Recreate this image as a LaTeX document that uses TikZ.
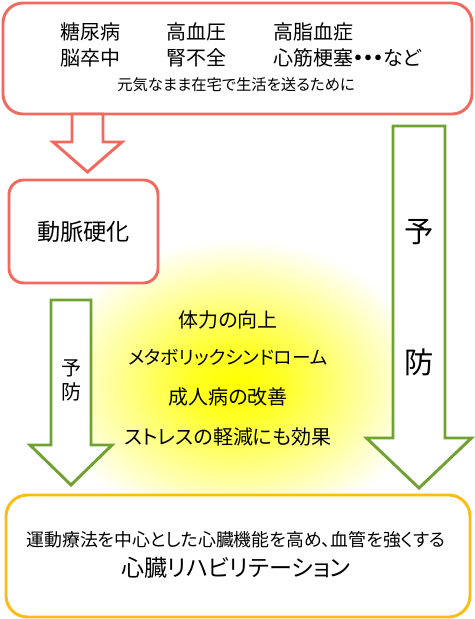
\documentclass[tikz,border=0pt]{standalone}
\usepackage{fontspec}
\newfontfamily\jp[RawFeature=+palt]{Noto Sans CJK JP}
\usetikzlibrary{calc}
\definecolor{boxred}{RGB}{242,105,95}
\definecolor{arrgreen}{RGB}{112,162,50}
\definecolor{boxorange}{RGB}{252,188,20}
\pgfdeclareradialshading{glow}{\pgfpoint{0bp}{0bp}}{color(0bp)=(yellow);
  color(6bp)=(yellow!85); color(25bp)=(white); color(50bp)=(white)}

% block arrow: style, start, tip, half shaft, half head, head length
\newcommand{\blockarrow}[6]{%
  \draw[#1] ($(#2)+(-#4,0)$) -- ($(#2)+(#4,0)$) -- ($(#3)+(#4,-#6)$) -- ($(#3)+(#5,-#6)$)
    -- (#3) -- ($(#3)+(-#5,-#6)$) -- ($(#3)+(-#4,-#6)$) -- cycle;}

\begin{document}
\begin{tikzpicture}[x=0.75pt, y=-0.75pt,
    redbox/.style={rectangle, draw=boxred, line width=2.2pt, fill=white},
    orangebox/.style={rectangle, draw=boxorange, line width=2.2pt, fill=white,
                      rounded corners=16pt, minimum width=348pt, minimum height=91.5pt},
    redarr/.style={draw=boxred, line width=2.2pt, fill=white},
    greenarr/.style={draw=arrgreen, line width=2.2pt, fill=white},
    txt/.style={font=\jp\fontsize{15pt}{18pt}\selectfont, inner sep=0pt},
    small/.style={font=\jp\fontsize{11.5pt}{14pt}\selectfont, inner sep=0pt}
]
    \path[use as bounding box, fill=white] (0,0) rectangle (475,619);

    % Glow
    \shade[shading=glow] (236,384) ellipse (190 and 145);

    % Diseases
    \node[redbox, rounded corners=15pt, minimum width=351.75pt, minimum height=83.25pt]
        (top) at (237.5,58.5) {};
    \node[txt, anchor=west] (d1) at (60,32) {糖尿病};
    \node[txt, anchor=west] (d2) at (166,32) {高血圧};
    \node[txt, anchor=west] (d3) at (273,32) {高脂血症};
    \node[txt, anchor=west] (d4) at (60,58) {脳卒中};
    \node[txt, anchor=west] (d5) at (166,58) {腎不全};
    \node[txt, anchor=west] (d6) at (273,58) {心筋梗塞{\bfseries ・・・}など};
    \node[small] (goal) at (236,85) {元気なまま在宅で生活を送るために};

    % Arteriosclerosis
    \node[redbox, rounded corners=11pt, minimum width=111.75pt, minimum height=77.25pt,
          font=\jp\fontsize{17.4pt}{20pt}\selectfont] (athero) at (83.5,231.5) {動脈硬化};

    \coordinate (ra) at (87.5,114);
    \coordinate (rb) at (87.5,172);
    \blockarrow{redarr}{ra}{rb}{15.5}{34.5}{30}

    % Prevention arrows
    \coordinate (la) at (71,300);
    \coordinate (lb) at (71,485);
    \blockarrow{greenarr}{la}{lb}{20}{41}{40}
    \node[txt, align=center] (lprev) at (71,380) {予\\防};

    \coordinate (ga) at (419,126);
    \coordinate (gb) at (419,488);
    \blockarrow{greenarr}{ga}{gb}{26}{52.5}{50}
    \node[font=\jp\fontsize{22pt}{26pt}\selectfont, inner sep=0pt] (gp1) at (419,232) {予};
    \node[font=\jp\fontsize{22pt}{26pt}\selectfont, inner sep=0pt] (gp2) at (419,362) {防};

    % Effects
    \node[txt] (e1) at (228,320) {体力の向上};
    \node[txt, font=\jp\fontsize{14pt}{18pt}\selectfont] (e2) at (228,358) {メタボリックシンドローム};
    \node[txt] (e3) at (228,397) {成人病の改善};
    \node[txt] (e4) at (228,437) {ストレスの軽減にも効果};

    % Cardiac rehabilitation
    \node[orangebox] (rehab) at (238,556) {};
    \node[font=\jp\fontsize{13.4pt}{16pt}\selectfont, inner sep=0pt] (r1) at (236,540)
        {運動療法を中心とした心臓機能を高め、血管を強くする};
    \node[font=\jp\fontsize{17.3pt}{20pt}\selectfont, inner sep=0pt] (r2) at (236,568)
        {心臓リハビリテーション};
\end{tikzpicture}
\end{document}
